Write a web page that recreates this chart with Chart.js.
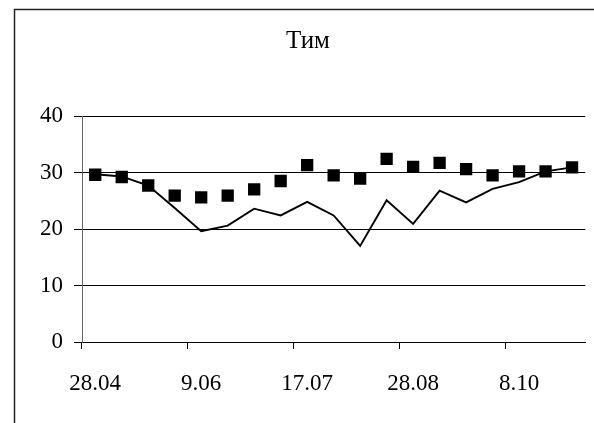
<!DOCTYPE html>
<html>
<head>
<meta charset="utf-8">
<script src="https://cdn.jsdelivr.net/npm/chart.js@4/dist/chart.umd.min.js"></script>
<style>
  html, body { margin: 0; padding: 0; background: #fff; }
  #wrap { width: 594px; height: 423px; }
</style>
</head>
<body>
<div id="wrap"><canvas id="chart" width="594" height="423"></canvas></div>
<script>
// ---------- Data ----------
const titleText = "Тим";
// only every 4th category carries a date label
const dates = [
  "28.04", "", "", "",
  "9.06", "", "", "",
  "17.07", "", "", "",
  "28.08", "", "", "",
  "8.10", "", "",
];
const squareValues = [29.6, 29.2, 27.7, 25.9, 25.6, 25.9, 27.0, 28.5, 31.3, 29.5,
                      28.9, 32.4, 31.0, 31.7, 30.6, 29.5, 30.2, 30.2, 30.9];
const lineValues = [29.7, 29.3, 27.7, 23.7, 19.6, 20.6, 23.6, 22.4, 24.8, 22.4,
                    17.0, 25.1, 20.9, 26.8, 24.7, 27.1, 28.3, 30.2, 30.9];
const yTicks = { min: 0, max: 40, step: 10 };

// ---------- Frame plugin ----------
const framePlugin = {
  id: "frame",
  beforeDraw(chart) {
    const ctx = chart.ctx;
    ctx.save();
    ctx.fillStyle = "#fff";
    ctx.fillRect(0, 0, chart.width, chart.height);
    ctx.strokeStyle = "#222";
    ctx.lineWidth = 1.5;
    ctx.strokeRect(14.5, 9.5, chart.width + 20, chart.height + 20);
    ctx.restore();
  },
};

const font = { family: '"Liberation Serif", "Times New Roman", serif', size: 23 };

new Chart(document.getElementById("chart"), {
  type: "line",
  data: {
    labels: dates,
    datasets: [
      {
        label: "squares",
        data: squareValues,
        showLine: false,
        pointStyle: "rect",
        pointRadius: 8.7,
        pointBackgroundColor: "#000",
        pointBorderColor: "#000",
        pointBorderWidth: 0,
      },
      {
        label: "line",
        data: lineValues,
        borderColor: "#000",
        borderWidth: 1.9,
        tension: 0,
        pointRadius: 0,
        fill: false,
      },
    ],
  },
  options: {
    responsive: false,
    animation: false,
    layout: { padding: { left: 30, right: 8, top: 0, bottom: 0 } },
    plugins: {
      legend: { display: false },
      tooltip: { enabled: false },
      title: {
        display: true,
        text: titleText,
        color: "#000",
        font: { family: font.family, size: 25, weight: "normal" },
        padding: { top: 26, bottom: 60 },
      },
    },
    scales: {
      x: {
        type: "category",
        offset: true,
        afterFit: (s) => { s.height = 81; },
        grid: {
          offset: true,
          drawOnChartArea: false,
          drawTicks: true,
          tickLength: 7,
          color: (c) => (c.index % 4 === 0 ? "#000" : "rgba(0,0,0,0)"),
          lineWidth: 1,
        },
        border: { color: "#000", width: 1 },
        ticks: {
          autoSkip: false,
          maxRotation: 0,
          color: "#000",
          font: font,
          padding: 21,
        },
      },
      y: {
        min: yTicks.min,
        max: yTicks.max,
        afterFit: (s) => { s.width = 52; },
        grid: { color: "#000", lineWidth: 1, tickLength: 8 },
        border: { color: "#666", width: 1 },
        ticks: {
          stepSize: yTicks.step,
          color: "#000",
          font: font,
          padding: 11,
        },
      },
    },
  },
  plugins: [framePlugin],
});
</script>
</body>
</html>
